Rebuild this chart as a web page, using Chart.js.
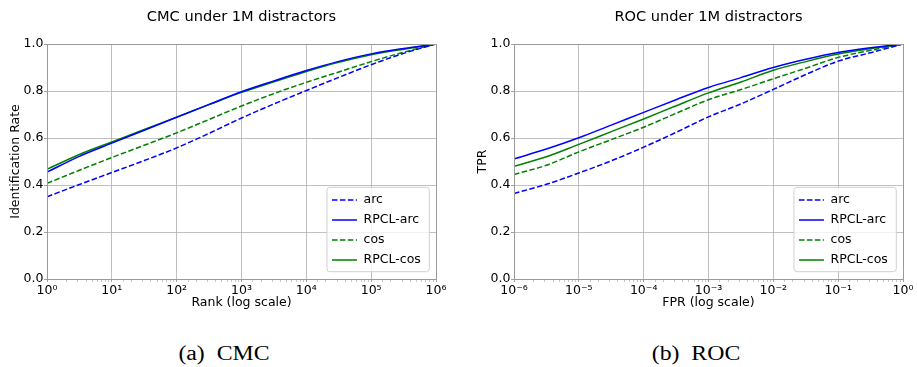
<!DOCTYPE html>
<html><head><meta charset="utf-8">
<script src="https://cdn.jsdelivr.net/npm/chart.js@4.4.1/dist/chart.umd.min.js"></script>
<style>
html,body{margin:0;padding:0;background:#fff;}
#wrap{position:relative;width:917px;height:367px;overflow:hidden;background:#fff;}
canvas{position:absolute;top:0;}
.cap{position:absolute;top:342px;font-family:"Liberation Serif",serif;font-size:20px;line-height:22px;white-space:pre;color:#000;transform:translateX(-50%) scaleX(1.19);}
</style>
</head><body>
<div id="wrap">
<canvas id="cmc" width="458" height="320" style="left:0px;width:458px;height:320px"></canvas>
<canvas id="roc" width="459" height="320" style="left:458px;width:459px;height:320px"></canvas>
<div class="cap" style="left:224px">(a)  CMC</div>
<div class="cap" style="left:696px">(b)  ROC</div>
</div>
<script>
// ---- data ----
const seriesNames = ['arc', 'RPCL-arc', 'cos', 'RPCL-cos'];
const cmcRanks = [1, 3.162, 10, 31.62, 100, 316.2, 1000, 3162, 10000, 31623, 100000, 316228, 1000000];
const cmcArc     = [0.350, 0.402, 0.453, 0.504, 0.558, 0.620, 0.685, 0.745, 0.802, 0.858, 0.912, 0.960, 1.0];
const cmcRpclArc = [0.455, 0.522, 0.578, 0.633, 0.688, 0.743, 0.797, 0.843, 0.887, 0.926, 0.958, 0.981, 1.0];
const cmcCos     = [0.407, 0.463, 0.517, 0.569, 0.622, 0.679, 0.736, 0.789, 0.837, 0.881, 0.925, 0.965, 1.0];
const cmcRpclCos = [0.467, 0.530, 0.583, 0.636, 0.689, 0.742, 0.794, 0.839, 0.883, 0.922, 0.954, 0.978, 1.0];

const rocFpr = [1e-6, 3.162e-6, 1e-5, 3.162e-5, 1e-4, 3.162e-4, 1e-3, 3.162e-3, 1e-2, 3.162e-2, 1e-1, 3.162e-1, 1];
const rocArc     = [0.364, 0.403, 0.451, 0.503, 0.561, 0.624, 0.690, 0.745, 0.807, 0.870, 0.927, 0.963, 1.0];
const rocRpclArc = [0.511, 0.553, 0.601, 0.655, 0.709, 0.763, 0.815, 0.857, 0.900, 0.935, 0.964, 0.984, 1.0];
const rocCos     = [0.445, 0.484, 0.541, 0.593, 0.646, 0.705, 0.763, 0.806, 0.852, 0.897, 0.943, 0.973, 1.0];
const rocRpclCos = [0.480, 0.520, 0.573, 0.627, 0.681, 0.737, 0.792, 0.838, 0.888, 0.925, 0.957, 0.980, 1.0];

const yTicks = [0, 0.2, 0.4, 0.6, 0.8, 1.0];
const yTickLabels = ['0.0', '0.2', '0.4', '0.6', '0.8', '1.0'];
const cmcTickLabels = ['10⁰', '10¹', '10²', '10³', '10⁴', '10⁵', '10⁶'];
const rocTickLabels = ['10⁻⁶', '10⁻⁵', '10⁻⁴', '10⁻³', '10⁻²', '10⁻¹', '10⁰'];

// ---- styles ----
const seriesColors = ['#0000ff', '#0000ff', '#008000', '#008000'];
const seriesDash = [[5.55, 2.4], [], [5.55, 2.4], []];
const FONT = 'DejaVu Sans';
const GRID = '#b0b0b0';
const SPINE = '#9a9a9a';

function isMajor(v) {
  if (v == null || v <= 0) return false;
  const l = Math.log10(v);
  return Math.abs(l - Math.round(l)) < 1e-6;
}

const decor = {
  id: 'decor',
  afterDraw(chart, args, opts) {
    const {ctx, chartArea: a} = chart;
    ctx.save();
    // frame
    ctx.strokeStyle = SPINE; ctx.lineWidth = 1;
    ctx.strokeRect(Math.round(a.left) + 0.5, Math.round(a.top) + 0.5,
                   Math.round(a.right - a.left), Math.round(a.bottom - a.top));
    // title
    ctx.fillStyle = '#000';
    ctx.font = '14.6px "' + FONT + '"';
    ctx.textAlign = 'center'; ctx.textBaseline = 'middle';
    ctx.fillText(opts.title, (a.left + a.right) / 2, 17);
    // legend
    ctx.font = '12.5px "' + FONT + '"';
    const ds = chart.data.datasets;
    let tw = 0;
    ds.forEach(d => { tw = Math.max(tw, ctx.measureText(d.label).width); });
    const padL = 5, lineW = 25, gap = 6.6, padR = 8.5, rowH = 20;
    const bw = padL + lineW + gap + tw + padR;
    const bh = 84.4;
    const bx = a.right - 6.7 - bw, by = a.bottom - 7.3 - bh;
    ctx.fillStyle = 'rgba(255,255,255,0.8)';
    ctx.strokeStyle = '#d0d0d0'; ctx.lineWidth = 1;
    ctx.beginPath();
    if (ctx.roundRect) ctx.roundRect(bx, by, bw, bh, 3); else ctx.rect(bx, by, bw, bh);
    ctx.fill(); ctx.stroke();
    ds.forEach((d, i) => {
      const yy = by + 12.7 + i * rowH;
      ctx.strokeStyle = d.borderColor; ctx.lineWidth = 1.5;
      ctx.setLineDash(d.borderDash || []);
      ctx.beginPath(); ctx.moveTo(bx + padL, yy); ctx.lineTo(bx + padL + lineW, yy); ctx.stroke();
      ctx.setLineDash([]);
      ctx.fillStyle = '#000'; ctx.textAlign = 'left'; ctx.textBaseline = 'middle';
      ctx.fillText(d.label, bx + padL + lineW + gap, yy);
    });
    ctx.restore();
  }
};

function makeChart(id, cfg) {
  const datasets = cfg.series.map((vals, i) => ({
    label: seriesNames[i],
    data: vals.map((y, j) => ({x: cfg.xs[j], y: y})),
    borderColor: seriesColors[i],
    borderDash: seriesDash[i],
    borderWidth: 1.5,
    pointRadius: 0,
    fill: false,
    cubicInterpolationMode: 'monotone'
  }));
  return new Chart(document.getElementById(id), {
    type: 'line',
    data: {datasets},
    plugins: [decor],
    options: {
      responsive: false, animation: false, devicePixelRatio: 1,
      layout: {padding: {top: 44, right: cfg.padRight, bottom: 0, left: 0}},
      plugins: {legend: {display: false}, title: {display: false}, tooltip: {enabled: false},
                decor: {title: cfg.title}},
      scales: {
        x: {
          type: 'logarithmic', min: cfg.xmin, max: cfg.xmax,
          afterFit: s => { s.height = 41; },
          border: {display: false},
          grid: {
            color: c => isMajor(c.tick && c.tick.value) ? GRID : 'rgba(0,0,0,0)',
            lineWidth: 0.8, tickLength: 3, tickWidth: 0.8,
            tickColor: c => isMajor(c.tick && c.tick.value) ? '#8a8a8a' : '#b8b8b8'
          },
          ticks: {
            autoSkip: false, maxRotation: 0, minRotation: 0, padding: 1, color: '#000',
            font: {family: FONT, size: 12.5},
            callback: v => isMajor(v) ? cfg.xLabels[Math.round(Math.log10(v)) - cfg.minExp] : ''
          },
          title: {display: true, text: cfg.xTitle, color: '#000', font: {family: FONT, size: 12.5},
                  padding: {top: 0, bottom: 9.5}}
        },
        y: {
          min: 0, max: 1,
          afterFit: s => { s.width = cfg.yWidth; },
          afterBuildTicks: s => { s.ticks = yTicks.map(v => ({value: v})); },
          border: {display: false},
          grid: {color: GRID, lineWidth: 0.8, tickLength: 3, tickWidth: 0.8, tickColor: '#8a8a8a'},
          ticks: {padding: 0.5, color: '#000', font: {family: FONT, size: 12.5},
                  callback: (v, i) => yTickLabels[yTicks.indexOf(v)] ?? v.toFixed(1)},
          title: {display: true, text: cfg.yTitle, color: '#000', font: {family: FONT, size: 12.5},
                  padding: {top: cfg.yTitlePad, bottom: 0}}
        }
      }
    }
  });
}

makeChart('cmc', {
  xs: cmcRanks, series: [cmcArc, cmcRpclArc, cmcCos, cmcRpclCos],
  xmin: 1, xmax: 1000000, minExp: 0, xLabels: cmcTickLabels,
  title: 'CMC under 1M distractors', xTitle: 'Rank (log scale)', yTitle: 'Identification Rate',
  padRight: 22, yWidth: 47, yTitlePad: 8
});
makeChart('roc', {
  xs: rocFpr, series: [rocArc, rocRpclArc, rocCos, rocRpclCos],
  xmin: 1e-6, xmax: 1, minExp: -6, xLabels: rocTickLabels,
  title: 'ROC under 1M distractors', xTitle: 'FPR (log scale)', yTitle: 'TPR',
  padRight: 14, yWidth: 56, yTitlePad: 17.5
});
</script>
</body></html>
